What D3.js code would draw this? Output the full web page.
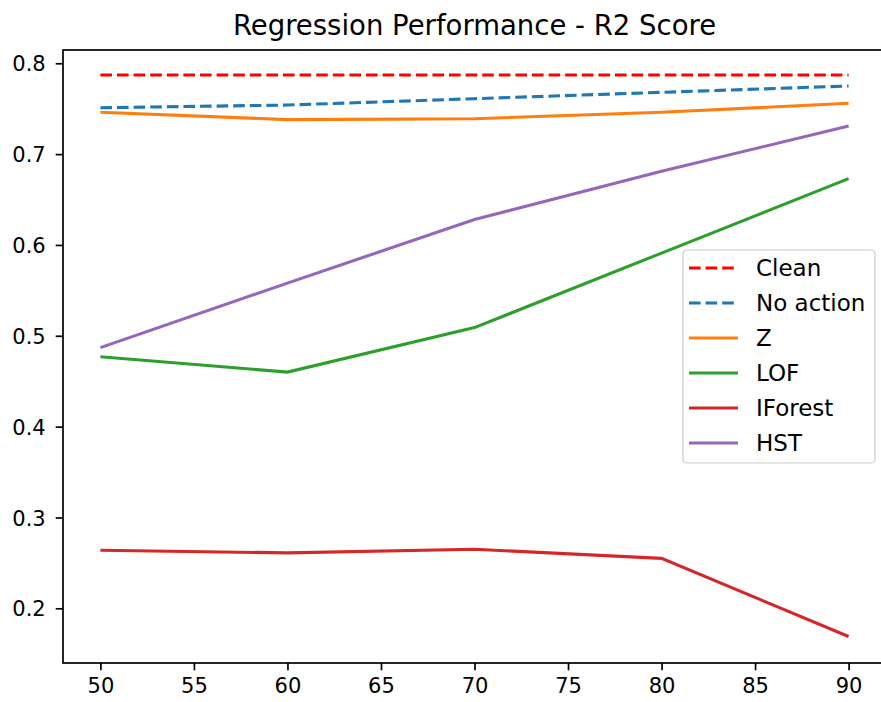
<!DOCTYPE html>
<html>
<head>
<meta charset="utf-8">
<script src="https://cdn.jsdelivr.net/npm/d3@7"></script>
<style>
  body { margin: 0; background: #fff; }
  text { font-family: "DejaVu Sans", sans-serif; fill: #000; }
</style>
</head>
<body>
<div id="chart"></div>
<script>
// contamination levels on the x axis
const levels = [50, 60, 70, 80, 90];

const clean    = [0.787, 0.787, 0.787, 0.787, 0.787];
const noAction = [0.751, 0.754, 0.761, 0.768, 0.775];
const zScore   = [0.746, 0.738, 0.739, 0.746, 0.756];
const lof      = [0.477, 0.460, 0.509, 0.591, 0.673];
const iforest  = [0.264, 0.261, 0.265, 0.255, 0.169];
const hst      = [0.487, 0.558, 0.628, 0.681, 0.731];

const seriesNames = ["Clean", "No action", "Z", "LOF", "IForest", "HST"];
const xTicks = [50, 55, 60, 65, 70, 75, 80, 85, 90];
const yTicks = [0.2, 0.3, 0.4, 0.5, 0.6, 0.7, 0.8];
const xLimits = [48, 92];
const yLimits = [0.1398, 0.8146];

const series = [
  { name: seriesNames[0], values: clean,    color: "#ff0000", dashed: true },
  { name: seriesNames[1], values: noAction, color: "#1f77b4", dashed: true },
  { name: seriesNames[2], values: zScore,   color: "#ff7f0e", dashed: false },
  { name: seriesNames[3], values: lof,      color: "#2ca02c", dashed: false },
  { name: seriesNames[4], values: iforest,  color: "#d62728", dashed: false },
  { name: seriesNames[5], values: hst,      color: "#9467bd", dashed: false }
];

const width = 881, height = 702;
const margin = { left: 63, top: 50, right: 886, bottom: 663 };
const fontSize = 21;

const svg = d3.select("#chart").append("svg")
  .attr("width", width)
  .attr("height", height);

const x = d3.scaleLinear().domain(xLimits).range([margin.left, margin.right]);
const y = d3.scaleLinear().domain(yLimits).range([margin.bottom, margin.top]);

// lines
const line = d3.line()
  .x((d, i) => x(levels[i]))
  .y(d => y(d));

svg.append("g").selectAll("path")
  .data(series)
  .enter().append("path")
  .attr("d", d => line(d.values))
  .attr("fill", "none")
  .attr("stroke", d => d.color)
  .attr("stroke-width", 3.1)
  .attr("stroke-dasharray", d => d.dashed ? "11.6,5" : null);

// axes
const xAxis = d3.axisBottom(x).tickValues(xTicks).tickSize(7.3).tickPadding(6).tickFormat(d3.format("d"));
const yAxis = d3.axisLeft(y).tickValues(yTicks).tickSize(7.3).tickPadding(10).tickFormat(d3.format(".1f"));

const gx = svg.append("g").attr("transform", "translate(0," + margin.bottom + ")").call(xAxis);
const gy = svg.append("g").attr("transform", "translate(" + margin.left + ",0)").call(yAxis);

[gx, gy].forEach(g => {
  g.select(".domain").remove();
  g.selectAll(".tick line").attr("stroke", "#000").attr("stroke-width", 1.7);
  g.selectAll(".tick text")
    .style("font-size", fontSize + "px")
    .attr("fill", "#262626");
});
gx.selectAll(".tick text").attr("dy", "0.8em");
gy.selectAll(".tick text").attr("dy", "0.36em");

// frame
svg.append("rect")
  .attr("x", margin.left)
  .attr("y", margin.top)
  .attr("width", margin.right - margin.left)
  .attr("height", margin.bottom - margin.top)
  .attr("fill", "none")
  .attr("stroke", "#000")
  .attr("stroke-width", 1.7);

// title
svg.append("text")
  .attr("x", (margin.left + margin.right) / 2)
  .attr("y", 35)
  .attr("text-anchor", "middle")
  .style("font-size", "27.5px")
  .text("Regression Performance - R2 Score");

// legend
const legend = svg.append("g").attr("transform", "translate(683,250)");
legend.append("rect")
  .attr("width", 192)
  .attr("height", 213)
  .attr("rx", 4)
  .attr("fill", "#fff")
  .attr("fill-opacity", 0.8)
  .attr("stroke", "#cccccc")
  .attr("stroke-width", 1.2);

const items = legend.selectAll("g.item")
  .data(series)
  .enter().append("g")
  .attr("class", "item")
  .attr("transform", (d, i) => "translate(0," + (18 + i * 35) + ")");

items.append("line")
  .attr("x1", 6).attr("x2", 55)
  .attr("stroke", d => d.color)
  .attr("stroke-width", 3.1)
  .attr("stroke-dasharray", d => d.dashed ? "11.6,5" : null);

items.append("text")
  .attr("x", 73)
  .attr("dy", "0.36em")
  .style("font-size", "23px")
  .text(d => d.name);
</script>
</body>
</html>
